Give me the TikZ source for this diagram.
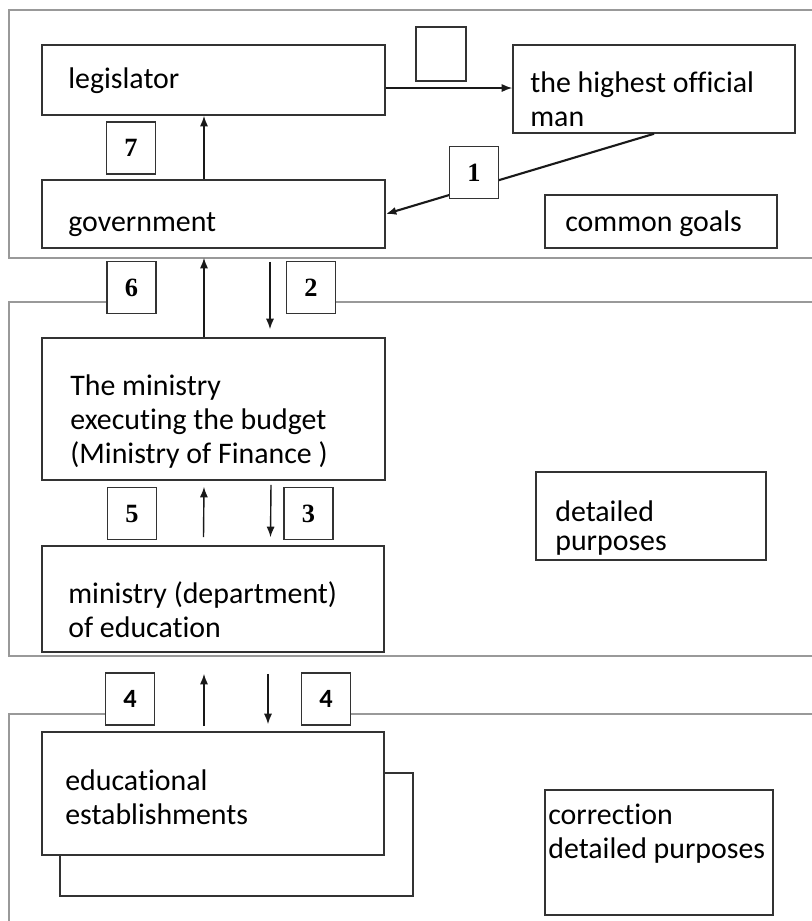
\documentclass[tikz,border=0pt]{standalone}
\usepackage{fontspec}
\setmainfont{Carlito}[Ligatures=NoCommon]
\newfontfamily\numfont{Liberation Serif}
\usetikzlibrary{arrows.meta,calc}

\tikzset{
  unit/.style={draw=black!80, line width=0.9pt, fill=white, inner sep=0pt},
  numbox/.style={unit, minimum width=0.98cm, minimum height=1.04cm,
    font=\numfont\bfseries\fontsize{15}{15}\selectfont},
  txt/.style={inner sep=0pt, align=left, anchor=base west,
    font=\fontsize{17}{19.3}\selectfont},
  panel/.style={draw=black!40, line width=0.9pt},
  link/.style={->, draw=black!90, line width=0.8pt},
}

\begin{document}
\begin{tikzpicture}[>={Latex[length=6pt,width=4.6pt]}, x=0.02cm, y=-0.02cm]
  \useasboundingbox (0,0) rectangle (812,921);
  % panels
  \draw[panel] (830,10) -- (9,10) -- (9,258) -- (830,258);
  \draw[panel] (830,302) -- (335,302);
  \draw[panel] (107,302) -- (9,302) -- (9,656) -- (830,656);
  \draw[panel] (830,714) -- (350,714);
  \draw[panel] (106,714) -- (9,714) -- (9,930);

  % boxes
  \node[unit, minimum width=6.86cm, minimum height=1.40cm] (leg) at (213.5,80) {};
  \node[unit, minimum width=1.00cm, minimum height=1.08cm] (blank) at (441,54) {};
  \node[unit, minimum width=5.64cm, minimum height=1.76cm] (high) at (654,89) {};
  \node[unit, minimum width=6.86cm, minimum height=1.36cm] (gov) at (213.5,214) {};
  \node[unit, minimum width=4.64cm, minimum height=1.06cm] (goals) at (661,221.5) {};
  \node[unit, minimum width=6.86cm, minimum height=2.84cm] (fin) at (213.5,409) {};
  \node[unit, minimum width=6.84cm, minimum height=2.12cm] (edu) at (213,599) {};
  \node[unit, minimum width=4.60cm, minimum height=1.76cm] (purp) at (651,516) {};
  \node[unit, minimum width=7.06cm, minimum height=2.46cm] (shade) at (236.5,834.5) {};
  \node[unit, minimum width=6.84cm, minimum height=2.46cm] (estab) at (213,793.5) {};
  \node[unit, minimum width=4.56cm, minimum height=2.50cm] (corr) at (659,852.5) {};

  % links
  \draw[link] ($(leg.east)+(0,8)$) -- ($(leg.east -| high.west)+(0,8)$);
  \draw[link, line width=1.2pt] (high.south) -- (gov.east);
  \draw[link] ($(gov.north)+(-9.5,0)$) -- ($(leg.south)+(-9.5,0)$);
  \draw[link] ($(fin.north)+(-9.5,0)$) -- ($(gov.south)+(-9.5,9)$);
  \draw[link] ($(gov.south)+(56.5,13)$) -- ($(fin.north)+(56.5,-8)$);
  \draw[link] ($(edu.north)+(-9.5,-8)$) -- ($(fin.south)+(-9.5,6)$);
  \draw[link] ($(fin.south)+(57.5,4)$) -- ($(edu.north)+(57.5,-8)$);
  \draw[link] ($(estab.north)+(-9,-5)$) -- ($(edu.south)+(-9,21)$);
  \draw[link] ($(edu.south)+(55,21)$) -- ($(estab.north)+(55,-7)$);

  % numbers
  \node[numbox] (n7) at (131,148) {7};
  \node[numbox] (n1) at (474,172.5) {1};
  \node[numbox] (n6) at (131.5,287.5) {6};
  \node[numbox] (n2) at (311,287.5) {2};
  \node[numbox] (n5) at (132,513.5) {5};
  \node[numbox] (n3) at (308.5,513.5) {3};
  \node[numbox, font=\bfseries\fontsize{15}{15}\selectfont] (n4a) at (130,699) {4};
  \node[numbox, font=\bfseries\fontsize{15}{15}\selectfont] (n4b) at (326,699) {4};

  % texts (multi-line ones sit on their last baseline)
  \node[txt] (leg-t) at (68,88) {legislator};
  \node[txt] (high-t) at (530,126) {the highest official\\man};
  \node[txt] (gov-t) at (68,231) {government};
  \node[txt] (goals-t) at (565,231) {common goals};
  \node[txt] (fin-t) at (70,463) {The ministry\\executing the budget\\(Ministry of Finance )};
  \node[txt] (edu-t) at (68,637) {ministry (department)\\of education};
  \node[txt, font=\fontsize{17}{16}\selectfont] (purp-t) at (555,550) {detailed\\purposes};
  \node[txt] (estab-t) at (65,824) {educational\\establishments};
  \node[txt] (corr-t) at (548,858) {correction\\detailed purposes};
\end{tikzpicture}
\end{document}
